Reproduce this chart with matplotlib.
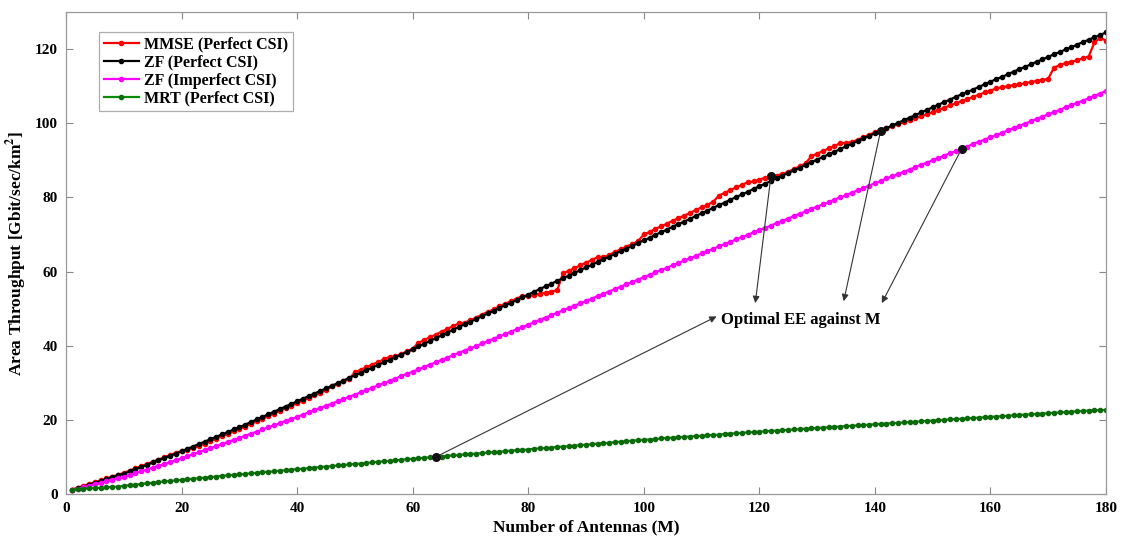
import matplotlib
matplotlib.use("Agg")
import matplotlib.pyplot as plt
import numpy as np

plt.rcParams['font.family'] = ['Liberation Serif', 'DejaVu Serif']
plt.rcParams['font.weight'] = 'bold'
plt.rcParams['mathtext.fontset'] = 'stix'

antennas = list(range(1, 181))

zf_perfect = [
    1.0, 1.5, 2.0, 2.5, 3.0, 3.5, 4.0, 4.5, 5.0, 5.5,
    6.1, 6.7, 7.3, 7.9, 8.5, 9.1, 9.7, 10.3, 10.9, 11.5,
    12.2, 12.8, 13.5, 14.1, 14.8, 15.4, 16.1, 16.7, 17.4, 18.0,
    18.7, 19.4, 20.1, 20.8, 21.5, 22.2, 22.9, 23.6, 24.3, 25.0,
    25.7, 26.4, 27.1, 27.8, 28.5, 29.2, 29.9, 30.6, 31.3, 32.0,
    32.7, 33.4, 34.1, 34.8, 35.5, 36.2, 36.9, 37.6, 38.3, 39.0,
    39.8, 40.5, 41.3, 42.0, 42.8, 43.5, 44.3, 45.0, 45.8, 46.5,
    47.2, 48.0, 48.7, 49.4, 50.2, 50.9, 51.6, 52.3, 53.1, 53.8,
    54.5, 55.3, 56.0, 56.7, 57.5, 58.2, 58.9, 59.6, 60.4, 61.1,
    61.8, 62.6, 63.3, 64.0, 64.8, 65.5, 66.2, 66.9, 67.7, 68.4,
    69.1, 69.9, 70.6, 71.3, 72.1, 72.8, 73.5, 74.2, 75.0, 75.7,
    76.4, 77.2, 77.9, 78.6, 79.4, 80.1, 80.8, 81.5, 82.3, 83.0,
    83.7, 84.4, 85.2, 85.9, 86.6, 87.3, 88.0, 88.8, 89.5, 90.2,
    90.9, 91.6, 92.3, 93.0, 93.8, 94.5, 95.2, 95.9, 96.6, 97.3,
    98.0, 98.7, 99.4, 100.1, 100.8, 101.5, 102.2, 102.9, 103.6, 104.3,
    105.0, 105.7, 106.4, 107.1, 107.8, 108.4, 109.1, 109.8, 110.5, 111.2,
    111.9, 112.5, 113.2, 113.9, 114.6, 115.2, 115.9, 116.6, 117.2, 117.9,
    118.6, 119.2, 119.9, 120.5, 121.2, 121.9, 122.5, 123.2, 123.8, 124.5,
]

mmse_perfect = [
    1.2, 1.7, 2.2, 2.7, 3.2, 3.7, 4.2, 4.7, 5.2, 5.7,
    6.3, 6.9, 7.5, 8.1, 8.7, 9.3, 9.9, 10.5, 11.1, 11.6,
    11.9, 12.4, 13.0, 13.6, 14.3, 14.9, 15.6, 16.2, 16.9, 17.5,
    18.2, 18.9, 19.6, 20.3, 21.0, 21.7, 22.4, 23.1, 23.8, 24.5,
    25.2, 25.9, 26.6, 27.3, 28.0, 29.0, 29.7, 30.4, 31.1, 32.8,
    33.5, 34.2, 34.9, 35.6, 36.3, 37.0, 37.1, 37.8, 38.5, 39.2,
    40.8, 41.5, 42.3, 43.0, 43.8, 44.5, 45.3, 46.0, 46.2, 46.9,
    47.6, 48.4, 49.1, 49.8, 50.6, 51.3, 52.0, 52.7, 53.4, 53.3,
    53.7, 54.0, 54.3, 54.6, 54.9, 59.5, 60.2, 60.9, 61.7, 62.4,
    63.1, 63.9, 63.8, 64.5, 65.3, 66.0, 66.7, 67.4, 68.2, 70.0,
    70.7, 71.5, 72.2, 72.9, 73.7, 74.4, 75.1, 75.8, 76.6, 77.3,
    78.0, 78.8, 80.5, 81.2, 82.0, 82.7, 83.4, 84.1, 84.3, 84.8,
    85.3, 85.7, 85.9, 86.3, 86.9, 87.7, 88.4, 89.2, 91.1, 91.8,
    92.5, 93.2, 93.9, 94.6, 94.7, 95.0, 95.5, 96.2, 96.9, 97.6,
    98.0, 98.6, 99.2, 99.8, 100.3, 100.8, 101.3, 101.9, 102.4, 103.0,
    103.6, 104.2, 104.8, 105.4, 106.0, 106.5, 107.1, 107.7, 108.3, 108.8,
    109.4, 109.7, 110.0, 110.3, 110.5, 110.8, 111.1, 111.4, 111.7, 112.0,
    115.0, 115.7, 116.2, 116.6, 117.0, 117.5, 118.0, 121.8, 123.0, 122.3,
]

zf_imperfect = [
    1.0, 1.4, 1.8, 2.2, 2.6, 3.0, 3.4, 3.8, 4.2, 4.6,
    5.1, 5.6, 6.1, 6.6, 7.1, 7.6, 8.1, 8.6, 9.1, 9.6,
    10.2, 10.7, 11.3, 11.8, 12.4, 12.9, 13.5, 14.0, 14.6, 15.1,
    15.7, 16.3, 16.8, 17.4, 18.0, 18.5, 19.1, 19.7, 20.2, 20.8,
    21.4, 22.0, 22.6, 23.2, 23.8, 24.4, 25.0, 25.6, 26.2, 26.8,
    27.4, 28.0, 28.7, 29.3, 29.9, 30.5, 31.1, 31.8, 32.4, 33.0,
    33.6, 34.3, 34.9, 35.5, 36.2, 36.8, 37.4, 38.1, 38.7, 39.3,
    39.9, 40.6, 41.2, 41.9, 42.5, 43.1, 43.8, 44.4, 45.0, 45.7,
    46.3, 47.0, 47.6, 48.2, 48.9, 49.5, 50.2, 50.8, 51.4, 52.1,
    52.7, 53.4, 54.0, 54.6, 55.3, 55.9, 56.6, 57.2, 57.8, 58.5,
    59.1, 59.8, 60.4, 61.0, 61.7, 62.3, 63.0, 63.6, 64.2, 64.9,
    65.5, 66.1, 66.8, 67.4, 68.0, 68.7, 69.3, 69.9, 70.6, 71.2,
    71.8, 72.4, 73.1, 73.7, 74.3, 75.0, 75.6, 76.2, 76.9, 77.5,
    78.1, 78.7, 79.4, 80.0, 80.6, 81.3, 81.9, 82.5, 83.2, 83.8,
    84.4, 85.1, 85.7, 86.3, 86.9, 87.5, 88.2, 88.8, 89.4, 90.0,
    90.6, 91.3, 91.9, 92.5, 93.1, 93.7, 94.4, 95.0, 95.6, 96.2,
    96.8, 97.4, 98.1, 98.7, 99.3, 99.9, 100.5, 101.2, 101.8, 102.4,
    103.0, 103.6, 104.3, 104.9, 105.5, 106.1, 106.7, 107.4, 108.0, 108.8,
]

mrt_perfect = [
    1.2, 1.3, 1.4, 1.5, 1.6, 1.7, 1.8, 1.9, 2.0, 2.2,
    2.4, 2.5, 2.7, 2.9, 3.0, 3.2, 3.4, 3.5, 3.7, 3.8,
    4.0, 4.1, 4.3, 4.4, 4.6, 4.7, 4.9, 5.0, 5.2, 5.3,
    5.4, 5.6, 5.7, 5.9, 6.0, 6.1, 6.3, 6.4, 6.6, 6.7,
    6.8, 7.0, 7.1, 7.3, 7.4, 7.5, 7.7, 7.8, 8.0, 8.1,
    8.2, 8.4, 8.5, 8.7, 8.8, 8.9, 9.1, 9.2, 9.4, 9.5,
    9.6, 9.8, 9.9, 10.0, 10.1, 10.3, 10.4, 10.5, 10.7, 10.8,
    10.9, 11.0, 11.2, 11.3, 11.4, 11.5, 11.7, 11.8, 11.9, 12.0,
    12.2, 12.3, 12.4, 12.5, 12.7, 12.8, 12.9, 13.0, 13.2, 13.3,
    13.4, 13.6, 13.7, 13.8, 14.0, 14.1, 14.2, 14.4, 14.5, 14.6,
    14.7, 14.8, 15.0, 15.1, 15.2, 15.3, 15.4, 15.5, 15.6, 15.7,
    15.8, 15.9, 16.0, 16.2, 16.3, 16.4, 16.5, 16.6, 16.7, 16.8,
    16.9, 17.0, 17.1, 17.2, 17.3, 17.4, 17.5, 17.6, 17.7, 17.8,
    17.9, 18.0, 18.1, 18.2, 18.3, 18.4, 18.5, 18.6, 18.7, 18.8,
    18.9, 19.0, 19.1, 19.2, 19.3, 19.4, 19.5, 19.6, 19.7, 19.8,
    19.9, 20.0, 20.1, 20.2, 20.3, 20.4, 20.5, 20.6, 20.7, 20.8,
    20.9, 21.0, 21.1, 21.2, 21.3, 21.4, 21.5, 21.6, 21.7, 21.8,
    21.9, 22.0, 22.1, 22.2, 22.3, 22.4, 22.5, 22.6, 22.6, 22.7,
]

# optimal-EE points (M, throughput) marked on each curve
optimal_m = [122, 141, 155, 64]
optimal_val = [85.7, 98.0, 93.1, 10.0]
# where each arrow ends, next to the text
arrow_heads = [(119.3, 51.5), (134.6, 52.0), (141.2, 51.5), (112.6, 47.9)]
note_text = 'Optimal EE against M'
note_pos = (113.4, 47.0)

fig = plt.figure(figsize=(11.25, 5.44), dpi=100)
ax = fig.add_axes([0.0587, 0.0919, 0.9244, 0.886])

ax.plot(antennas, mmse_perfect, color='#ff0000', marker='.', markersize=6, lw=1.6, label='MMSE (Perfect CSI)')
ax.plot(antennas, zf_perfect, color='black', marker='.', markersize=6, lw=1.6, label='ZF (Perfect CSI)')
ax.plot(antennas, zf_imperfect, color='#ff00ff', marker='.', markersize=6, lw=1.6, label='ZF (Imperfect CSI)')
ax.plot(antennas, mrt_perfect, color='#0a8a0a', marker='.', markersize=6, lw=1.6,
        markeredgecolor='#0b6b0b', markerfacecolor='#0b6b0b', label='MRT (Perfect CSI)')

ax.plot(optimal_m, optimal_val, linestyle='none', marker='o', markersize=5.5, color='#111111', zorder=5)

for (mx, my), (hx, hy) in zip(zip(optimal_m, optimal_val), arrow_heads):
    ax.annotate('', xy=(hx, hy), xytext=(mx, my),
                arrowprops=dict(arrowstyle='-|>', color='#333333', lw=0.8,
                                mutation_scale=10, shrinkA=0, shrinkB=0))
ax.text(note_pos[0], note_pos[1], note_text, fontsize=12, fontweight='bold', va='center', ha='left')

ax.set_xlim(0, 180)
ax.set_ylim(0, 130)
ax.set_xticks(range(0, 181, 20))
ax.set_yticks(range(0, 121, 20))
ax.tick_params(direction='in', length=5, width=0.8, color='#888888', labelsize=11,
               top=True, right=True, pad=6)
for lab in ax.get_xticklabels() + ax.get_yticklabels():
    lab.set_fontweight('bold')
for sp in ax.spines.values():
    sp.set_color('#999999')
    sp.set_linewidth(0.9)

ax.set_xlabel('Number of Antennas (M)', fontsize=12.5, fontweight='bold', labelpad=3)
ax.set_ylabel(r'Area Throughput [Gbit/sec/km$^{\mathbf{2}}$]', fontsize=12.5, fontweight='bold', labelpad=4)

leg = ax.legend(loc='upper left', bbox_to_anchor=(0.024, 0.975), frameon=True,
                fancybox=False, edgecolor='#999999', handlelength=2.2, handletextpad=0.3,
                borderpad=0.3, labelspacing=0.12, prop={'weight': 'bold', 'size': 11.5})
leg.get_frame().set_linewidth(0.9)

fig.savefig('out.png', dpi=100)
